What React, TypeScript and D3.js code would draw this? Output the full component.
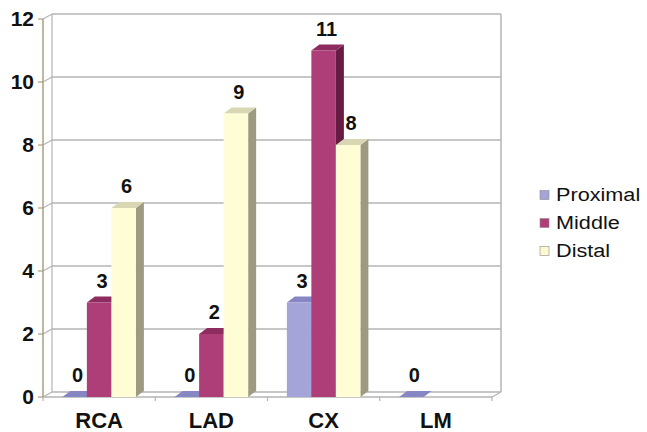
import React from "react";
import * as d3 from "d3";

const categories = ["RCA", "LAD", "CX", "LM"];
const seriesNames = ["Proximal", "Middle", "Distal"];
const proximal = [0, 0, 3, 0];
const middle = [3, 2, 11, null];
const distal = [6, 9, 8, null];
const yTicks = [0, 2, 4, 6, 8, 10, 12];

const seriesValues = [proximal, middle, distal];

const faceColors = [
  { front: "#a4a4d8", top: "#8686c4", side: "#6e6ea8", swatch: "#a4a4d8" },
  { front: "#ad3e78", top: "#8e2c60", side: "#661c42", swatch: "#b03c78" },
  { front: "#fefdd6", top: "#d9d7b3", side: "#9c9a80", swatch: "#fbfad0" },
];

const W = 647;
const H = 432;
const X0 = 43;
const X1 = 492;
const Y0 = 397;
const Y12 = 19;
const WDX = 9;
const WDY = -5;
const BDX = 8;
const BDY = -6;

export default function App() {
  const y = d3.scaleLinear().domain([0, 12]).range([Y0, Y12]);
  const x = d3.scaleBand<string>().domain(categories).range([X0, X1]).padding(0);
  const xs = d3
    .scaleBand<string>()
    .domain(seriesNames)
    .range([0, x.bandwidth()])
    .paddingInner(0)
    .paddingOuter(0.79);
  const bw = xs.bandwidth();

  const font = "'Liberation Sans', Arial, sans-serif";
  const grid = "#b4b4b4";

  const pts = (arr: number[][]) => arr.map((p) => p.join(",")).join(" ");

  const bars: React.ReactNode[] = [];
  const labels: React.ReactNode[] = [];
  categories.forEach((c, ci) => {
    seriesNames.forEach((s, si) => {
      const v = seriesValues[si][ci];
      if (v === null || v === undefined) return;
      const xl = (x(c) as number) + (xs(s) as number);
      const xr = xl + bw;
      const yt = y(v);
      const yb = y(0);
      const col = faceColors[si];
      bars.push(
        <g key={`b-${ci}-${si}`}>
          {v > 0 && (
            <polygon
              points={pts([
                [xr, yb],
                [xr + BDX, yb + BDY],
                [xr + BDX, yt + BDY],
                [xr, yt],
              ])}
              fill={col.side}
            />
          )}
          <polygon
            points={pts([
              [xl, yt],
              [xl + BDX, yt + BDY],
              [xr + BDX, yt + BDY],
              [xr, yt],
            ])}
            fill={col.top}
          />
          {v > 0 && <rect x={xl} y={yt} width={bw} height={yb - yt} fill={col.front} />}
        </g>
      );
      labels.push(
        <text
          key={`l-${ci}-${si}`}
          x={xl + bw / 2 + 3}
          y={yt - 15}
          textAnchor="middle"
          fontFamily={font}
          fontWeight="bold"
          fontSize={20}
          fill="#111"
        >
          {v}
        </text>
      );
    });
  });

  const bounds = d3.range(categories.length + 1).map((i) => X0 + i * x.step());

  return (
    <svg
      width={W}
      height={H}
      style={{ position: "absolute", left: 0, top: 0, background: "#fff" }}
    >
      {/* walls & gridlines */}
      {yTicks.map((t) => (
        <g key={`g-${t}`}>
          <line x1={X0 + WDX} x2={X1 + WDX} y1={y(t) + WDY} y2={y(t) + WDY} stroke={grid} strokeWidth={1.5} />
          <line x1={X0} x2={X0 + WDX} y1={y(t)} y2={y(t) + WDY} stroke={grid} strokeWidth={1.2} />
          <line x1={X0 - 5} x2={X0} y1={y(t)} y2={y(t)} stroke="#a89f82" strokeWidth={1.2} />
          <text
            x={34}
            y={y(t) + 7}
            textAnchor="end"
            fontFamily={font}
            fontWeight="bold"
            fontSize={21}
            fill="#111"
          >
            {t}
          </text>
        </g>
      ))}
      <line x1={X0 + WDX} x2={X0 + WDX} y1={y(12) + WDY} y2={y(0) + WDY} stroke={grid} strokeWidth={1.2} />
      <line x1={X1 + WDX} x2={X1 + WDX} y1={y(12) + WDY} y2={y(0) + WDY} stroke={grid} strokeWidth={1.5} />
      {/* floor */}
      <line x1={X0} x2={X1} y1={Y0} y2={Y0} stroke={grid} strokeWidth={1.5} />
      <line x1={X1} x2={X1 + WDX} y1={Y0} y2={Y0 + WDY} stroke={grid} strokeWidth={1.2} />
      {bounds.map((b, i) => (
        <line key={`ft-${i}`} x1={b} x2={b} y1={Y0} y2={Y0 + 4} stroke={grid} strokeWidth={1.2} />
      ))}
      <line x1={X0} x2={X0} y1={y(12)} y2={Y0} stroke="#a89f82" strokeWidth={1.5} />

      {bars}
      {labels}

      {categories.map((c) => (
        <text
          key={`c-${c}`}
          x={(x(c) as number) + x.bandwidth() / 2}
          y={428}
          textAnchor="middle"
          fontFamily={font}
          fontWeight="bold"
          fontSize={22}
          fill="#111"
        >
          {c}
        </text>
      ))}

      {/* legend */}
      {seriesNames.map((s, i) => {
        const cy = 195 + i * 28;
        return (
          <g key={`lg-${s}`}>
            <rect
              x={540}
              y={cy - 4.5}
              width={9}
              height={9}
              fill={faceColors[i].swatch}
              stroke="#8a8a8a"
              strokeWidth={0.6}
            />
            <g transform={`translate(556, ${cy + 6}) scale(1.14, 1)`}>
              <text x={0} y={0} fontFamily={font} fontSize={19} fill="#111">
                {s}
              </text>
            </g>
          </g>
        );
      })}
    </svg>
  );
}
